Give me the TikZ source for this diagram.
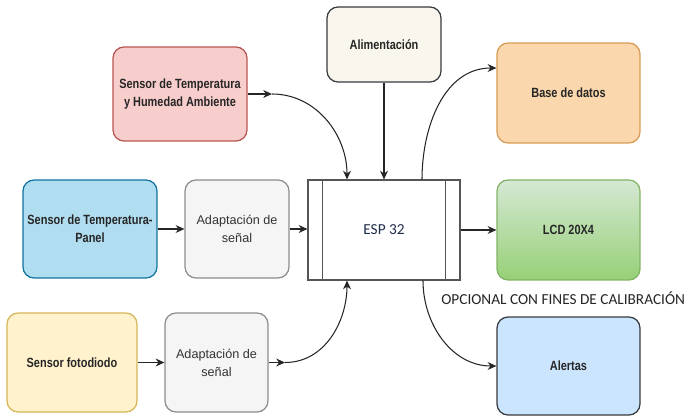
\documentclass[tikz,border=0pt]{standalone}
\usepackage{fontspec}
\setmainfont{Liberation Sans}
\newfontfamily\boxfont{Liberation Sans}[FakeStretch=0.82]
\newfontfamily\calfont{Carlito}
\usetikzlibrary{arrows.meta}

\definecolor{rojoF}{HTML}{F8CECC}
\definecolor{rojoD}{HTML}{B85450}
\definecolor{azulF}{HTML}{B1DDF0}
\definecolor{azulD}{HTML}{10739E}
\definecolor{grisF}{HTML}{F5F5F5}
\definecolor{grisD}{HTML}{8C8C8C}
\definecolor{grisT}{HTML}{333333}
\definecolor{grisE}{HTML}{555555}
\definecolor{amaF}{HTML}{FFF2CC}
\definecolor{amaD}{HTML}{D6B656}
\definecolor{alimF}{HTML}{F9F7ED}
\definecolor{oscD}{HTML}{36393D}
\definecolor{naraF}{HTML}{FAD7AC}
\definecolor{naraD}{HTML}{D79B55}
\definecolor{verdeA}{HTML}{D5E8D4}
\definecolor{verdeB}{HTML}{97D077}
\definecolor{verdeD}{HTML}{82B366}
\definecolor{celF}{HTML}{CCE5FF}
\definecolor{espT}{HTML}{1F2D4D}

\tikzset{
  bloque/.style={draw, rounded corners=0.22cm, line width=0.7pt, align=center,
    font=\boxfont\fontsize{7.6}{10.2}\selectfont\bfseries, text=black!85, inner sep=2pt},
  adapt/.style={draw=grisD, fill=grisF, rounded corners=0.22cm, line width=0.7pt, align=center,
    font=\fontsize{7.2}{10.2}\selectfont, text=grisT, inner sep=2pt},
  proc/.style={draw=grisE, fill=white, line width=0.6pt,
    font=\calfont\fontsize{8.7}{10}\selectfont, text=espT},
  flecha/.style={-{Stealth[length=5pt,width=4.5pt]}, line width=0.6pt, draw=black!85}
}

\begin{document}
\begin{tikzpicture}[x=0.02cm, y=-0.02cm]
         \useasboundingbox (0,0) rectangle (689,416);

         \node[bloque, fill=rojoF, draw=rojoD, minimum width=2.68cm, minimum height=1.88cm] (amb) at (180,94) {Sensor de Temperatura\\y Humedad Ambiente};
         \node[bloque, fill=azulF, draw=azulD, minimum width=2.68cm, minimum height=1.96cm] (panel) at (90,229) {Sensor de Temperatura-\\Panel};
         \node[adapt, minimum width=2.08cm, minimum height=1.96cm] (adapA) at (237,229) {Adaptación de\\señal};
         \node[bloque, fill=amaF, draw=amaD, minimum width=2.6cm, minimum height=1.98cm] (foto) at (72,362.5) {Sensor fotodiodo};
         \node[adapt, minimum width=2.06cm, minimum height=1.98cm] (adapB) at (216.5,362.5) {Adaptación de\\señal};

         \node[proc, minimum width=3.04cm, minimum height=2cm] (esp) at (384,230) {ESP 32};
         \draw[line width=0.6pt, draw=grisE] ([xshift=0.3cm]esp.north west) -- ([xshift=0.3cm]esp.south west);
         \draw[line width=0.6pt, draw=grisE] ([xshift=-0.3cm]esp.north east) -- ([xshift=-0.3cm]esp.south east);

         \node[bloque, fill=alimF, draw=oscD, minimum width=2.28cm, minimum height=1.5cm] (alim) at (384,44.5) {Alimentación};
         \node[bloque, fill=naraF, draw=naraD, minimum width=2.86cm, minimum height=2cm] (base) at (568.5,93) {Base de datos};
         \node[bloque, top color=verdeA, bottom color=verdeB, draw=verdeD, minimum width=2.86cm, minimum height=2cm] (lcd) at (568.5,230) {LCD 20X4};
         \node[bloque, fill=celF, draw=oscD, minimum width=2.86cm, minimum height=1.96cm] (alert) at (568.5,366) {Alertas};

         \node[anchor=west, font=\calfont\fontsize{8.7}{10}\selectfont, text=black!85, inner sep=0pt] (opc) at (441,298) {OPCIONAL CON FINES DE CALIBRACIÓN};

         \coordinate (mA) at (272,94);
         \coordinate (mB) at (285,362.5);

         \draw[flecha] (amb) -- (mA);
         \draw[flecha] (mA) to[out=0, in=90] ([xshift=-0.74cm]esp.north);
         \draw[flecha] (alim.south) -- (esp.north);
         \draw[flecha] (panel) -- (adapA);
         \draw[flecha] (adapA.east) -- (adapA.east -| esp.west);
         \draw[flecha] (foto) -- (adapB);
         \draw[flecha] (adapB) -- (mB);
         \draw[flecha] (mB) to[out=0, in=-90] ([xshift=-0.74cm]esp.south);
         \draw[flecha] ([xshift=0.76cm]esp.north) to[out=90, in=180] ([yshift=0.5cm]base.west);
         \draw[flecha] (esp) -- (lcd);
         \draw[flecha] ([xshift=0.78cm]esp.south) to[out=-90, in=180] (alert.west);
      \end{tikzpicture}
\end{document}
